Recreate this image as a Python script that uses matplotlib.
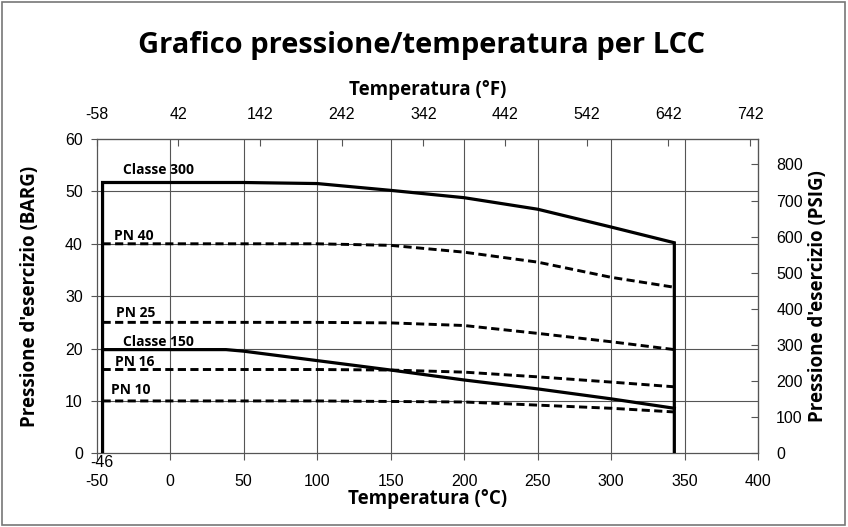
import matplotlib.pyplot as plt
from matplotlib.patches import Rectangle

# dati (temperatura in °C, pressione in bar)
temp_classe = [-46, 38, 50, 100, 150, 200, 250, 300, 343]
classe_300 = [51.7, 51.7, 51.7, 51.5, 50.2, 48.8, 46.6, 43.2, 40.2]
classe_150 = [19.8, 19.8, 19.5, 17.7, 15.9, 14.0, 12.3, 10.4, 8.6]

temp_pn = [-46, 100, 150, 200, 250, 300, 343]
pn_40 = [40, 40, 39.7, 38.4, 36.5, 33.6, 31.7]
pn_25 = [25, 25, 24.9, 24.4, 22.9, 21.3, 19.8]
pn_16 = [16, 16, 15.9, 15.5, 14.6, 13.6, 12.7]
pn_10 = [10, 10, 9.9, 9.8, 9.2, 8.6, 7.9]

x_ticks_c = list(range(-50, 401, 50))
x_ticks_f = list(range(-58, 743, 100))
y_ticks_bar = list(range(0, 61, 10))
y_ticks_psi = list(range(0, 801, 100))

etichette = [
    ("Classe 300", -32, 54.0),
    ("PN 40", -38, 41.4),
    ("PN 25", -37, 26.8),
    ("Classe 150", -32, 21.3),
    ("PN 16", -37.5, 17.4),
    ("PN 10", -40.5, 12.1),
]

BAR_TO_PSI = 14.5038
FONT_LBL = ['Open Sans', 'DejaVu Sans']
GRIGIO = '#555555'
TICK_SIZE = 11.5
LBL_SIZE = 13.5

plt.rcParams['font.family'] = ['Liberation Sans', 'DejaVu Sans']
plt.rcParams['axes.unicode_minus'] = False


def c2f(c):
    return c * 1.8 + 32


def f2c(f):
    return (f - 32) / 1.8


def bar2psi(b):
    return b * BAR_TO_PSI


def psi2bar(p):
    return p / BAR_TO_PSI


fig = plt.figure(figsize=(8.48, 5.27), dpi=100)
ax = fig.add_axes([0.114, 0.1398, 0.780, 0.5964])

ax.set_xlim(-50, 400)
ax.set_ylim(0, 60)

# griglia
for x in x_ticks_c[1:-1]:
    ax.axvline(x, color=GRIGIO, lw=0.8, zorder=1)
for y in y_ticks_bar[1:-1]:
    ax.axhline(y, color=GRIGIO, lw=0.8, zorder=1)

# classe 300 con i limiti verticali di temperatura
ax.plot([temp_classe[0]] + temp_classe + [temp_classe[-1]], [0] + classe_300 + [0],
        color='black', lw=2.3, zorder=3, solid_joinstyle='miter')
ax.plot(temp_classe, classe_150, color='black', lw=2.3, zorder=3)
for serie in (pn_40, pn_25, pn_16, pn_10):
    ax.plot(temp_pn, serie, color='black', lw=2.1, dashes=(2.8, 1.5), zorder=3)

for testo, x, y in etichette:
    ax.text(x, y, testo, family=FONT_LBL, fontweight='bold', fontsize=10,
            ha='left', va='center', zorder=4)

ax.text(-46.5, -0.3, "-46", fontsize=TICK_SIZE, ha='center', va='top')

for sp in ax.spines.values():
    sp.set_color(GRIGIO)
    sp.set_linewidth(0.9)

ax.set_xticks(x_ticks_c)
ax.set_yticks(y_ticks_bar)
ax.tick_params(axis='x', direction='out', length=5, color=GRIGIO, pad=10, labelsize=TICK_SIZE)
ax.tick_params(axis='y', direction='out', length=4, color=GRIGIO, pad=6, labelsize=TICK_SIZE)

ax.set_xlabel('Temperatura (°C)', family=FONT_LBL, fontweight='bold', fontsize=LBL_SIZE)
ax.set_ylabel("Pressione d'esercizio (BARG)", family=FONT_LBL, fontweight='bold', fontsize=LBL_SIZE)
ax.xaxis.set_label_coords(0.5, -0.113)
ax.yaxis.set_label_coords(-0.085, 0.5)

# asse superiore in °F
ax_top = ax.secondary_xaxis('top', functions=(c2f, f2c))
ax_top.set_xticks(x_ticks_f)
ax_top.tick_params(direction='in', length=5, color=GRIGIO, pad=12, labelsize=TICK_SIZE)
ax_top.spines['top'].set_color(GRIGIO)
ax.text(0.5, 1.156, 'Temperatura (°F)', transform=ax.transAxes, family=FONT_LBL,
        fontweight='bold', fontsize=LBL_SIZE, ha='center', va='center')

# asse destro in PSIG
ax_r = ax.secondary_yaxis('right', functions=(bar2psi, psi2bar))
ax_r.set_yticks(y_ticks_psi)
ax_r.tick_params(direction='in', length=5, color=GRIGIO, pad=13, labelsize=TICK_SIZE)
ax_r.spines['right'].set_color(GRIGIO)
ax.text(1.0903, 0.5, "Pressione d'esercizio (PSIG)", transform=ax.transAxes, family=FONT_LBL,
        fontweight='bold', fontsize=LBL_SIZE, rotation=90, ha='center', va='center')

fig.text(0.497, 1 - 45 / 527, 'Grafico pressione/temperatura per LCC',
         family=FONT_LBL, fontweight='bold', fontsize=21, ha='center', va='center')

fig.patches.append(Rectangle((0.002, 0.003), 0.995, 0.993, transform=fig.transFigure,
                             fill=False, edgecolor='#777777', lw=1.2))

fig.savefig('out.png', dpi=100)
